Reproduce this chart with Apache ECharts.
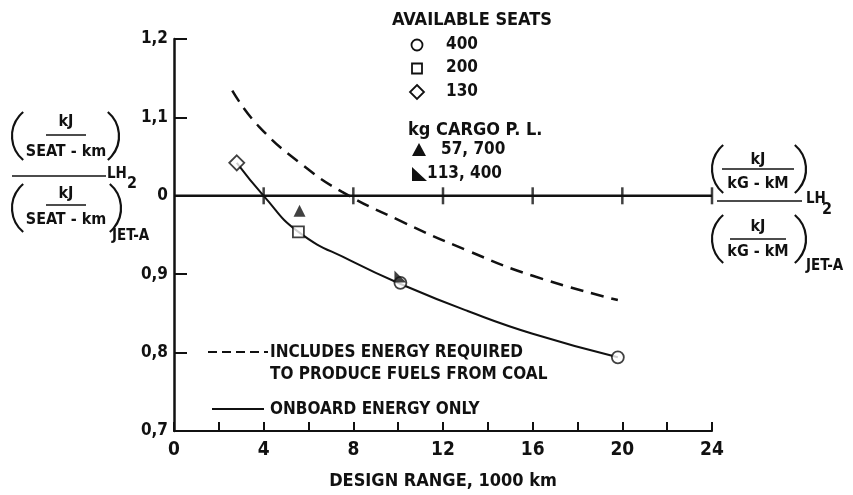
<!DOCTYPE html>
<html>
<head>
<meta charset="utf-8">
<script src="https://cdn.jsdelivr.net/npm/echarts@6/dist/echarts.min.js"></script>
<style>
  html, body { margin: 0; padding: 0; background: #fff; }
  #chart { width: 853px; height: 495px; }
</style>
</head>
<body>
<div id="chart"></div>
<script>
// Design range (1000 km) and LH2 / Jet-A energy ratio
const onboardRange = [2.8, 4.0, 5.55, 7.9, 10.4, 13.1, 16.0, 19.8];
const onboardRatio = [1.042, 1.0, 0.954, 0.917, 0.884, 0.853, 0.824, 0.794];

const coalRange = [2.6, 3.8, 5.8, 7.5, 10.1, 13.1, 16.0, 19.8];
const coalRatio = [1.134, 1.088, 1.038, 1.005, 0.968, 0.930, 0.898, 0.867];

// Aircraft design points
const seats400 = [[10.1, 0.889], [19.8, 0.794]];
const seats200 = [[5.55, 0.954]];
const seats130 = [[2.8, 1.042]];
const cargo57700 = [[5.6, 0.981]];
const cargo113400 = [[10.1, 0.897]];

// Reference ratio line (= 1) and its scale marks
const referenceRatio = 1.0;
const referenceMarks = [4, 8, 12, 16, 20, 24];

const xTicks = [0, 4, 8, 12, 16, 20, 24];
const yTickLabels = { '0.7': '0,7', '0.8': '0,8', '0.9': '0,9', '1': '0', '1.1': '1,1', '1.2': '1,2' };

const FONT = '"DejaVu Sans Condensed", "Liberation Sans Narrow", sans-serif';
const INK = '#111';

const zip = (xs, ys) => xs.map((x, i) => [x, ys[i]]);
const halfTriangle = 'path://M0,0 L0,10 L10,10 Z';

function txt(text, x, y, size, align) {
  return {
    type: 'text', x: x, y: y,
    style: { text: text, fill: INK, fontFamily: FONT, fontWeight: 'bold', fontSize: size,
             textAlign: align || 'left', textVerticalAlign: 'middle' }
  };
}
function hline(x1, x2, y, w, dash) {
  return { type: 'line', shape: { x1: x1, y1: y, x2: x2, y2: y },
           style: { stroke: INK, lineWidth: w || 1.5, lineDash: dash || null } };
}
// thin curved bracket drawn as a circular arc
function paren(left, xEdge, yTop, yBot) {
  const th = 50 * Math.PI / 180;
  const r = (yBot - yTop) / 2 / Math.sin(th);
  const cy = (yTop + yBot) / 2;
  return {
    type: 'arc',
    shape: left
      ? { cx: xEdge + r, cy: cy, r: r, startAngle: Math.PI - th, endAngle: Math.PI + th, clockwise: true }
      : { cx: xEdge - r, cy: cy, r: r, startAngle: -th, endAngle: th, clockwise: true },
    style: { stroke: INK, lineWidth: 2.2, fill: null }
  };
}
function group(cx, kjY, barY, unitY, unit, barW, pl, pr, pTop, pBot) {
  return [
    paren(true, pl, pTop, pBot),
    paren(false, pr, pTop, pBot),
    txt('kJ', cx, kjY, 16, 'center'),
    hline(cx - barW / 2, cx + barW / 2, barY, 1.4),
    txt(unit, cx, unitY, 16, 'center')
  ];
}

const graphics = [].concat(
  // legend, upper block
  txt('AVAILABLE SEATS', 392, 20, 18),
  { type: 'circle', shape: { cx: 417, cy: 45, r: 5.5 }, style: { fill: '#fff', stroke: INK, lineWidth: 1.8 } },
  txt('400', 446, 45, 17),
  { type: 'rect', shape: { x: 412, y: 63.5, width: 10, height: 10 }, style: { fill: '#fff', stroke: INK, lineWidth: 1.8 } },
  txt('200', 446, 68, 17),
  { type: 'polygon', shape: { points: [[417, 85], [424, 92], [417, 99], [410, 92]] }, style: { fill: '#fff', stroke: INK, lineWidth: 1.8 } },
  txt('130', 446, 92, 17),
  txt('kg CARGO P. L.', 408, 130, 18),
  { type: 'polygon', shape: { points: [[419, 143], [426, 156], [412, 156]] }, style: { fill: INK } },
  txt('57, 700', 441, 150, 17),
  { type: 'polygon', shape: { points: [[412, 167], [412, 181], [427, 181]] }, style: { fill: INK } },
  txt('113, 400', 427, 174, 17),

  // legend, lower block
  hline(208, 268, 352, 2, [9, 5]),
  txt('INCLUDES ENERGY REQUIRED', 270, 353, 17),
  txt('TO PRODUCE FUELS FROM COAL', 270, 375, 17),
  hline(212, 264, 409, 2),
  txt('ONBOARD ENERGY ONLY', 270, 410, 17),

  // left-hand ratio label (kJ per seat-km)
  group(66, 122, 135, 152, 'SEAT - km', 40, 12, 119, 112, 160),
  hline(12, 106, 176, 1.5),
  txt('LH', 107, 174, 15),
  txt('2', 127, 184, 16),
  group(66, 194, 205, 220, 'SEAT - km', 40, 12, 121, 184, 232),
  txt('JET-A', 112, 236, 15),

  // right-hand ratio label (kJ per kg-km)
  group(758, 160, 169, 184, 'kG - kM', 72, 712, 806, 145, 193),
  hline(717, 802, 201, 1.5),
  txt('LH', 806, 199, 15),
  txt('2', 822, 210, 16),
  group(758, 227, 239, 252, 'kG - kM', 56, 712, 806, 215, 263),
  txt('JET-A', 806, 266, 15)
);

const chart = echarts.init(document.getElementById('chart'), null, { renderer: 'canvas' });

chart.setOption({
  animation: false,
  backgroundColor: '#fff',
  textStyle: { fontFamily: FONT, color: INK },
  grid: { left: 174, right: 141, top: 39, bottom: 54, containLabel: false },
  xAxis: {
    type: 'value', min: 0, max: 24, interval: 2,
    name: 'DESIGN RANGE, 1000 km', nameLocation: 'middle', nameGap: 41,
    nameTextStyle: { fontFamily: FONT, fontWeight: 'bold', fontSize: 18, color: INK },
    axisLine: { show: true, onZero: false, lineStyle: { color: INK, width: 2 } },
    axisTick: { show: true, inside: true, length: 9, lineStyle: { color: INK, width: 2 } },
    axisLabel: {
      margin: 10, fontFamily: FONT, fontWeight: 'bold', fontSize: 19, color: INK,
      formatter: v => (xTicks.indexOf(v) >= 0 ? String(v) : '')
    },
    splitLine: { show: false }
  },
  yAxis: {
    type: 'value', min: 0.7, max: 1.2, interval: 0.1,
    axisLine: { show: true, onZero: false, lineStyle: { color: INK, width: 2.5 } },
    axisTick: { show: true, inside: true, length: 13, lineStyle: { color: INK, width: 2 } },
    axisLabel: {
      margin: 6, fontFamily: FONT, fontWeight: 'bold', fontSize: 17, color: INK,
      formatter: v => yTickLabels[String(Math.round(v * 10) / 10)] || ''
    },
    splitLine: { show: false }
  },
  series: [
    {
      name: 'reference', type: 'line', silent: true, symbol: 'none',
      data: [[0, referenceRatio], [24, referenceRatio]],
      lineStyle: { color: INK, width: 2.5 }, z: 2
    },
    {
      name: 'reference marks', type: 'scatter', silent: true,
      symbol: 'rect', symbolSize: [2.5, 17],
      data: referenceMarks.map(x => [x, referenceRatio]),
      itemStyle: { color: INK }, z: 3
    },
    {
      name: 'INCLUDES ENERGY REQUIRED TO PRODUCE FUELS FROM COAL', type: 'line',
      smooth: 0.5, symbol: 'none', data: zip(coalRange, coalRatio),
      lineStyle: { color: INK, width: 2.5, type: [13, 8] }, z: 4
    },
    {
      name: 'ONBOARD ENERGY ONLY', type: 'line',
      smooth: 0.5, symbol: 'none', data: zip(onboardRange, onboardRatio),
      lineStyle: { color: INK, width: 2 }, z: 4
    },
    {
      name: '400', type: 'scatter', symbol: 'circle', symbolSize: 12, data: seats400,
      itemStyle: { color: '#fff', borderColor: INK, borderWidth: 1.8 }, z: 6
    },
    {
      name: '200', type: 'scatter', symbol: 'rect', symbolSize: 11, data: seats200,
      itemStyle: { color: '#fff', borderColor: INK, borderWidth: 1.8 }, z: 6
    },
    {
      name: '130', type: 'scatter', symbol: 'diamond', symbolSize: 15, data: seats130,
      itemStyle: { color: '#fff', borderColor: INK, borderWidth: 1.8 }, z: 6
    },
    {
      name: '57,700', type: 'scatter', symbol: 'triangle', symbolSize: 12, data: cargo57700,
      itemStyle: { color: INK }, z: 7
    },
    {
      name: '113,400', type: 'scatter', symbol: halfTriangle, symbolSize: 12, data: cargo113400,
      itemStyle: { color: INK }, z: 7
    }
  ],
  graphic: graphics
});
</script>
</body>
</html>
